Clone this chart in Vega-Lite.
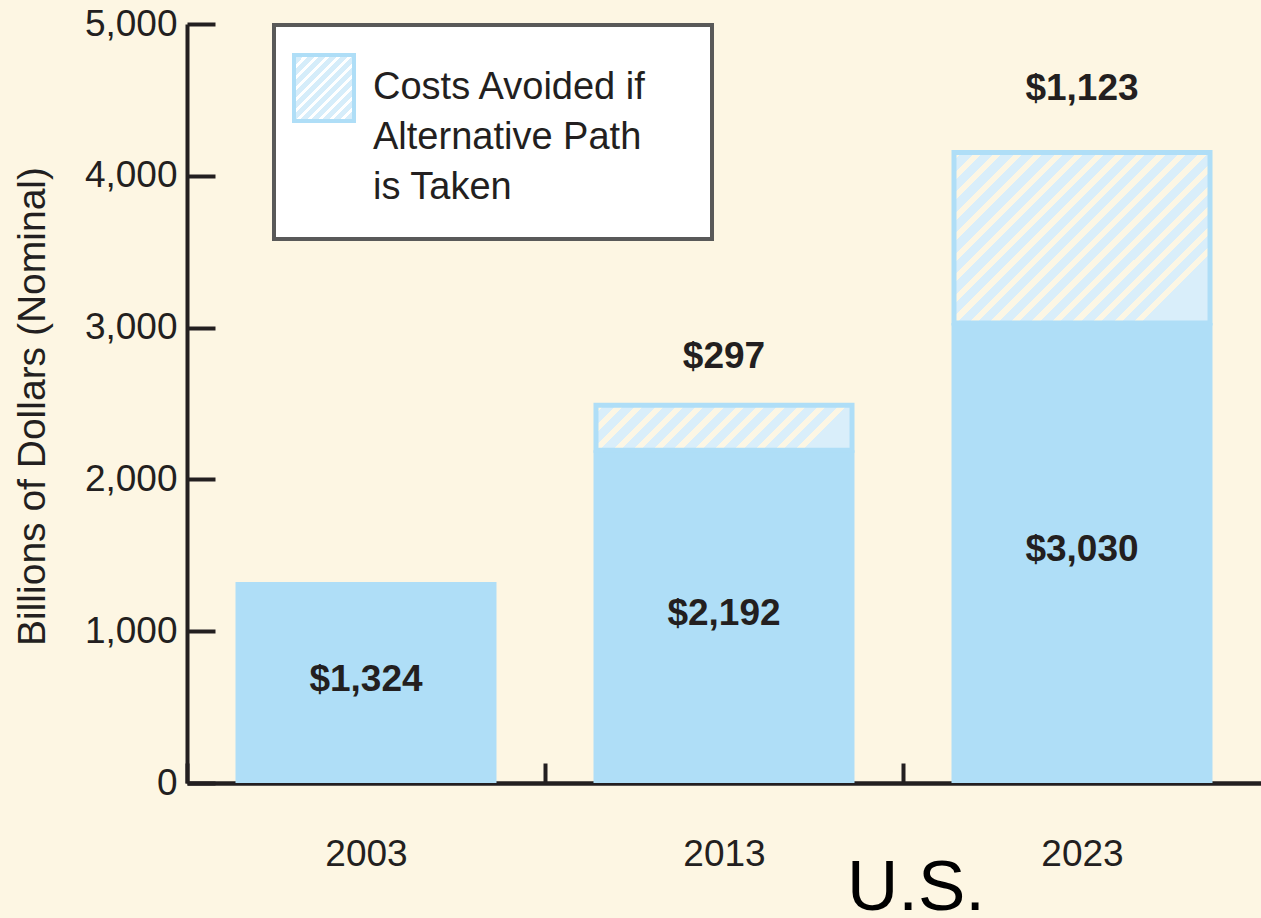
{
  "$schema": "https://vega.github.io/schema/vega-lite/v6.json",
  "autosize": "none",
  "width": 1074,
  "height": 759,
  "padding": {"left": 187, "top": 24, "right": 0, "bottom": 135},
  "background": "#fdf6e3",
  "config": {
    "view": {"stroke": null},
    "font": "Liberation Sans",
    "legend": {"strokeWidth": 4},
    "style": {"guide-label": {"lineHeight": 50}}
  },
  "title": {
    "text": "U.S.",
    "orient": "bottom",
    "anchor": "middle",
    "frame": "group",
    "fontSize": 71,
    "fontWeight": "normal",
    "color": "#000000",
    "baseline": "alphabetic",
    "offset": 38,
    "dx": 192
  },
  "data": {
    "values": [
      {"year": "2003", "base": 1324, "avoided": null, "total": 1324, "series": "Costs Avoided if Alternative Path is Taken"},
      {"year": "2013", "base": 2192, "avoided": 297, "total": 2489, "series": "Costs Avoided if Alternative Path is Taken"},
      {"year": "2023", "base": 3030, "avoided": 1123, "total": 4153, "series": "Costs Avoided if Alternative Path is Taken"}
    ]
  },
  "encoding": {
    "x": {
      "field": "year",
      "type": "nominal",
      "sort": ["2003", "2013", "2023"],
      "scale": {"paddingInner": 0.271, "paddingOuter": 0.1355},
      "axis": {
        "title": null,
        "labelAngle": 0,
        "labelFontSize": 37,
        "labelColor": "#231f20",
        "labelPadding": 73,
        "tickOffset": -179,
        "labelOffset": 179,
        "tickSize": -20,
        "tickWidth": 4,
        "tickColor": "#231f20",
        "domainColor": "#231f20",
        "domainWidth": 4.5,
        "grid": false
      }
    }
  },
  "layer": [
    {
      "mark": {"type": "bar", "fill": "#afdef7"},
      "encoding": {
        "y": {
          "field": "base",
          "type": "quantitative",
          "scale": {"domain": [0, 5000], "nice": false},
          "axis": {
            "values": [0, 1000, 2000, 3000, 4000, 5000],
            "format": ",.0f",
            "grid": false,
            "labelFontSize": 37,
            "labelColor": "#231f20",
            "labelPadding": 38,
            "tickSize": -28,
            "tickWidth": 4,
            "tickColor": "#231f20",
            "domainColor": "#231f20",
            "domainWidth": 4,
            "title": "Billions of Dollars (Nominal)",
            "titleFontSize": 39,
            "titleFontWeight": "normal",
            "titleColor": "#231f20",
            "titleAngle": -90,
            "titleAlign": "center",
            "titleBaseline": "alphabetic",
            "titleX": -143,
            "titleY": 382
          }
        }
      }
    },
    {
      "transform": [{"filter": "datum.year == '2023'"}],
      "mark": {
        "type": "bar",
        "width": {"band": 0.981},
        "strokeWidth": 5,
        "stroke": "#afdef7",
        "fill": {
          "gradient": "linear", "x1": 0, "y1": 0, "x2": 1, "y2": 0.666,
          "stops": [
            {"offset": 0, "color": "#fcf6e4"}, {"offset": 0.0222, "color": "#fcf6e4"}, {"offset": 0.0222, "color": "#d9eefa"}, {"offset": 0.0556, "color": "#d9eefa"},
            {"offset": 0.0556, "color": "#fcf6e4"}, {"offset": 0.0778, "color": "#fcf6e4"}, {"offset": 0.0778, "color": "#d9eefa"}, {"offset": 0.1111, "color": "#d9eefa"},
            {"offset": 0.1111, "color": "#fcf6e4"}, {"offset": 0.1333, "color": "#fcf6e4"}, {"offset": 0.1333, "color": "#d9eefa"}, {"offset": 0.1667, "color": "#d9eefa"},
            {"offset": 0.1667, "color": "#fcf6e4"}, {"offset": 0.1889, "color": "#fcf6e4"}, {"offset": 0.1889, "color": "#d9eefa"}, {"offset": 0.2222, "color": "#d9eefa"},
            {"offset": 0.2222, "color": "#fcf6e4"}, {"offset": 0.2444, "color": "#fcf6e4"}, {"offset": 0.2444, "color": "#d9eefa"}, {"offset": 0.2778, "color": "#d9eefa"},
            {"offset": 0.2778, "color": "#fcf6e4"}, {"offset": 0.3, "color": "#fcf6e4"}, {"offset": 0.3, "color": "#d9eefa"}, {"offset": 0.3333, "color": "#d9eefa"},
            {"offset": 0.3333, "color": "#fcf6e4"}, {"offset": 0.3556, "color": "#fcf6e4"}, {"offset": 0.3556, "color": "#d9eefa"}, {"offset": 0.3889, "color": "#d9eefa"},
            {"offset": 0.3889, "color": "#fcf6e4"}, {"offset": 0.4111, "color": "#fcf6e4"}, {"offset": 0.4111, "color": "#d9eefa"}, {"offset": 0.4444, "color": "#d9eefa"},
            {"offset": 0.4444, "color": "#fcf6e4"}, {"offset": 0.4667, "color": "#fcf6e4"}, {"offset": 0.4667, "color": "#d9eefa"}, {"offset": 0.5, "color": "#d9eefa"},
            {"offset": 0.5, "color": "#fcf6e4"}, {"offset": 0.5222, "color": "#fcf6e4"}, {"offset": 0.5222, "color": "#d9eefa"}, {"offset": 0.5556, "color": "#d9eefa"},
            {"offset": 0.5556, "color": "#fcf6e4"}, {"offset": 0.5778, "color": "#fcf6e4"}, {"offset": 0.5778, "color": "#d9eefa"}, {"offset": 0.6111, "color": "#d9eefa"},
            {"offset": 0.6111, "color": "#fcf6e4"}, {"offset": 0.6333, "color": "#fcf6e4"}, {"offset": 0.6333, "color": "#d9eefa"}, {"offset": 0.6667, "color": "#d9eefa"},
            {"offset": 0.6667, "color": "#fcf6e4"}, {"offset": 0.6889, "color": "#fcf6e4"}, {"offset": 0.6889, "color": "#d9eefa"}, {"offset": 0.7222, "color": "#d9eefa"},
            {"offset": 0.7222, "color": "#fcf6e4"}, {"offset": 0.7444, "color": "#fcf6e4"}, {"offset": 0.7444, "color": "#d9eefa"}, {"offset": 0.7778, "color": "#d9eefa"},
            {"offset": 0.7778, "color": "#fcf6e4"}, {"offset": 0.8, "color": "#fcf6e4"}, {"offset": 0.8, "color": "#d9eefa"}, {"offset": 0.8333, "color": "#d9eefa"},
            {"offset": 0.8333, "color": "#fcf6e4"}, {"offset": 0.8556, "color": "#fcf6e4"}, {"offset": 0.8556, "color": "#d9eefa"}, {"offset": 0.8889, "color": "#d9eefa"},
            {"offset": 0.8889, "color": "#fcf6e4"}, {"offset": 0.9111, "color": "#fcf6e4"}, {"offset": 0.9111, "color": "#d9eefa"}, {"offset": 0.9444, "color": "#d9eefa"},
            {"offset": 0.9444, "color": "#fcf6e4"}, {"offset": 0.9667, "color": "#fcf6e4"}, {"offset": 0.9667, "color": "#d9eefa"}, {"offset": 1, "color": "#d9eefa"}
          ]
        }
      },
      "encoding": {
        "y": {"field": "base", "type": "quantitative"},
        "y2": {"field": "total"}
      }
    },
    {
      "transform": [{"filter": "datum.year == '2013'"}],
      "mark": {
        "type": "bar",
        "width": {"band": 0.981},
        "strokeWidth": 5,
        "stroke": "#afdef7",
        "fill": {
          "gradient": "linear", "x1": 0, "y1": 0, "x2": 1, "y2": 0.176,
          "stops": [
            {"offset": 0, "color": "#fcf6e4"}, {"offset": 0.0308, "color": "#fcf6e4"}, {"offset": 0.0308, "color": "#d9eefa"}, {"offset": 0.0769, "color": "#d9eefa"},
            {"offset": 0.0769, "color": "#fcf6e4"}, {"offset": 0.1077, "color": "#fcf6e4"}, {"offset": 0.1077, "color": "#d9eefa"}, {"offset": 0.1538, "color": "#d9eefa"},
            {"offset": 0.1538, "color": "#fcf6e4"}, {"offset": 0.1846, "color": "#fcf6e4"}, {"offset": 0.1846, "color": "#d9eefa"}, {"offset": 0.2308, "color": "#d9eefa"},
            {"offset": 0.2308, "color": "#fcf6e4"}, {"offset": 0.2615, "color": "#fcf6e4"}, {"offset": 0.2615, "color": "#d9eefa"}, {"offset": 0.3077, "color": "#d9eefa"},
            {"offset": 0.3077, "color": "#fcf6e4"}, {"offset": 0.3385, "color": "#fcf6e4"}, {"offset": 0.3385, "color": "#d9eefa"}, {"offset": 0.3846, "color": "#d9eefa"},
            {"offset": 0.3846, "color": "#fcf6e4"}, {"offset": 0.4154, "color": "#fcf6e4"}, {"offset": 0.4154, "color": "#d9eefa"}, {"offset": 0.4615, "color": "#d9eefa"},
            {"offset": 0.4615, "color": "#fcf6e4"}, {"offset": 0.4923, "color": "#fcf6e4"}, {"offset": 0.4923, "color": "#d9eefa"}, {"offset": 0.5385, "color": "#d9eefa"},
            {"offset": 0.5385, "color": "#fcf6e4"}, {"offset": 0.5692, "color": "#fcf6e4"}, {"offset": 0.5692, "color": "#d9eefa"}, {"offset": 0.6154, "color": "#d9eefa"},
            {"offset": 0.6154, "color": "#fcf6e4"}, {"offset": 0.6462, "color": "#fcf6e4"}, {"offset": 0.6462, "color": "#d9eefa"}, {"offset": 0.6923, "color": "#d9eefa"},
            {"offset": 0.6923, "color": "#fcf6e4"}, {"offset": 0.7231, "color": "#fcf6e4"}, {"offset": 0.7231, "color": "#d9eefa"}, {"offset": 0.7692, "color": "#d9eefa"},
            {"offset": 0.7692, "color": "#fcf6e4"}, {"offset": 0.8, "color": "#fcf6e4"}, {"offset": 0.8, "color": "#d9eefa"}, {"offset": 0.8462, "color": "#d9eefa"},
            {"offset": 0.8462, "color": "#fcf6e4"}, {"offset": 0.8769, "color": "#fcf6e4"}, {"offset": 0.8769, "color": "#d9eefa"}, {"offset": 0.9231, "color": "#d9eefa"},
            {"offset": 0.9231, "color": "#fcf6e4"}, {"offset": 0.9538, "color": "#fcf6e4"}, {"offset": 0.9538, "color": "#d9eefa"}, {"offset": 1, "color": "#d9eefa"}
          ]
        }
      },
      "encoding": {
        "y": {"field": "base", "type": "quantitative"},
        "y2": {"field": "total"}
      }
    },
    {
      "transform": [{"filter": "datum.year == 'none'"}],
      "mark": {
        "type": "bar",
        "strokeWidth": 4,
        "fill": {
          "gradient": "linear", "x1": 0, "y1": 0, "x2": 1, "y2": 0.4,
          "stops": [
            {"offset": 0, "color": "#ffffff"}, {"offset": 0.0097, "color": "#ffffff"}, {"offset": 0.0097, "color": "#d6edfa"}, {"offset": 0.0242, "color": "#d6edfa"},
            {"offset": 0.0242, "color": "#ffffff"}, {"offset": 0.0339, "color": "#ffffff"}, {"offset": 0.0339, "color": "#d6edfa"}, {"offset": 0.0484, "color": "#d6edfa"},
            {"offset": 0.0484, "color": "#ffffff"}, {"offset": 0.0581, "color": "#ffffff"}, {"offset": 0.0581, "color": "#d6edfa"}, {"offset": 0.0726, "color": "#d6edfa"},
            {"offset": 0.0726, "color": "#ffffff"}, {"offset": 0.0823, "color": "#ffffff"}, {"offset": 0.0823, "color": "#d6edfa"}, {"offset": 0.0968, "color": "#d6edfa"},
            {"offset": 0.0968, "color": "#ffffff"}, {"offset": 0.1065, "color": "#ffffff"}, {"offset": 0.1065, "color": "#d6edfa"}, {"offset": 0.121, "color": "#d6edfa"},
            {"offset": 0.121, "color": "#ffffff"}, {"offset": 0.1307, "color": "#ffffff"}, {"offset": 0.1307, "color": "#d6edfa"}, {"offset": 0.1452, "color": "#d6edfa"},
            {"offset": 0.1452, "color": "#ffffff"}, {"offset": 0.1549, "color": "#ffffff"}, {"offset": 0.1549, "color": "#d6edfa"}, {"offset": 0.1694, "color": "#d6edfa"},
            {"offset": 0.1694, "color": "#ffffff"}, {"offset": 0.1791, "color": "#ffffff"}, {"offset": 0.1791, "color": "#d6edfa"}, {"offset": 0.1936, "color": "#d6edfa"},
            {"offset": 0.1936, "color": "#ffffff"}, {"offset": 0.2033, "color": "#ffffff"}, {"offset": 0.2033, "color": "#d6edfa"}, {"offset": 0.2178, "color": "#d6edfa"},
            {"offset": 0.2178, "color": "#ffffff"}, {"offset": 0.2275, "color": "#ffffff"}, {"offset": 0.2275, "color": "#d6edfa"}, {"offset": 0.242, "color": "#d6edfa"},
            {"offset": 0.242, "color": "#ffffff"}, {"offset": 0.2517, "color": "#ffffff"}, {"offset": 0.2517, "color": "#d6edfa"}, {"offset": 0.2662, "color": "#d6edfa"},
            {"offset": 0.2662, "color": "#ffffff"}, {"offset": 0.2759, "color": "#ffffff"}, {"offset": 0.2759, "color": "#d6edfa"}, {"offset": 0.2904, "color": "#d6edfa"},
            {"offset": 0.2904, "color": "#ffffff"}, {"offset": 0.3001, "color": "#ffffff"}, {"offset": 0.3001, "color": "#d6edfa"}, {"offset": 1, "color": "#d6edfa"}
          ]
        }
      },
      "encoding": {
        "y": {"field": "base", "type": "quantitative"},
        "stroke": {
          "field": "series",
          "type": "nominal",
          "scale": {"domain": ["Costs Avoided if Alternative Path is Taken"], "range": ["#afdef7"]},
          "legend": {
            "title": null,
            "orient": "none",
            "legendX": 87,
            "legendY": 1,
            "fillColor": "#ffffff",
            "strokeColor": "#595959",
            "padding": 18,
            "symbolType": "M -1 -0.815 L 0.111 -0.815 L 0.111 0.407 L -1 0.407 Z M 6.259 2.093",
            "symbolSize": 11664,
            "symbolStrokeWidth": 4,
            "symbolOpacity": 1,
            "labelFontSize": 38,
            "labelColor": "#231f20",
            "labelOffset": -31,
            "labelLimit": 1000,
            "labelBaseline": "alphabetic",
            "labelExpr": "['Costs Avoided if', 'Alternative Path', 'is Taken']"
          }
        }
      }
    },
    {
      "transform": [{"calculate": "datum.base / 2", "as": "mid"}],
      "mark": {"type": "text", "fontSize": 37, "fontWeight": "bold", "color": "#231f20", "baseline": "middle", "dy": -3},
      "encoding": {
        "y": {"field": "mid", "type": "quantitative"},
        "text": {"field": "base", "type": "quantitative", "format": "$,.0f"}
      }
    },
    {
      "transform": [{"filter": "datum.year == '2013'"}],
      "mark": {"type": "text", "fontSize": 37, "fontWeight": "bold", "color": "#231f20", "baseline": "middle", "dy": -48},
      "encoding": {
        "y": {"field": "total", "type": "quantitative"},
        "text": {"field": "avoided", "type": "quantitative", "format": "$,.0f"}
      }
    },
    {
      "transform": [{"filter": "datum.year == '2023'"}],
      "mark": {"type": "text", "fontSize": 37, "fontWeight": "bold", "color": "#231f20", "baseline": "middle", "dy": -64},
      "encoding": {
        "y": {"field": "total", "type": "quantitative"},
        "text": {"field": "avoided", "type": "quantitative", "format": "$,.0f"}
      }
    }
  ]
}
